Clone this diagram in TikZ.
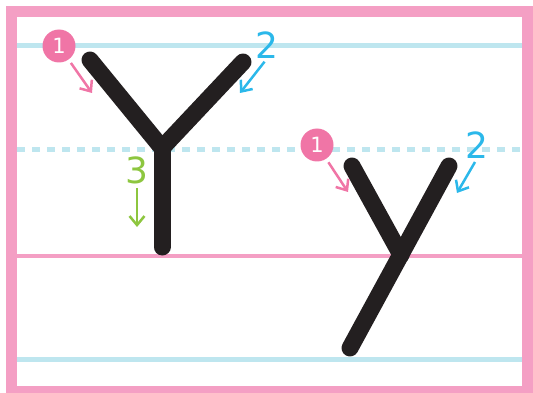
\documentclass[tikz,border=0pt]{standalone}
\usepackage{fontspec}
\setmainfont{DejaVu Sans}
\usetikzlibrary{arrows.meta}

\definecolor{framepink}{HTML}{F49FC4}
\definecolor{dotpink}{HTML}{F075A6}
\definecolor{guideblue}{HTML}{BEE6EF}
\definecolor{numblue}{HTML}{2BB8EA}
\definecolor{numgreen}{HTML}{8DC63F}
\definecolor{inkblack}{HTML}{231F20}

\begin{document}
\begin{tikzpicture}[
    x=1pt, y=-1pt,
    letter/.style={draw=inkblack, line width=17pt, line cap=round, line join=round},
    guide/.style={draw=guideblue, line width=5pt},
    dot/.style={circle, fill=dotpink, minimum size=33pt, inner sep=0pt, text=white, font=\fontsize{21}{21}\selectfont},
    num/.style={inner sep=0pt, font=\fontsize{36}{36}\selectfont},
    hint/.style={line width=2.5pt, -{Straight Barb[length=9pt,width=15pt,line width=2.5pt]}}
]

\useasboundingbox (0,0) rectangle (533,393);
\clip (0,0) rectangle (533,393);

% guide lines
\draw[guide] (17,46) -- (522,46);
\draw[guide, dash pattern=on 8pt off 7pt] (17,150) -- (522,150);
\draw[draw=framepink, line width=4pt] (17,255.5) -- (522,255.5);
\draw[guide] (17,359.5) -- (522,359.5);

% frame
\draw[draw=framepink, line width=11pt] (11.5,11.5) rectangle (527.5,391.5);

% capital Y
\coordinate (Yl) at (90,60);
\coordinate (Yr) at (243,62);
\coordinate (Yj) at (162,148);
\coordinate (Yb) at (162,247);
\draw[letter] (Yl) -- (Yj) -- (Yr);
\draw[letter] (Yj) -- (Yb);

% small y
\coordinate (yl) at (352,166);
\coordinate (yj) at (401,255);
\coordinate (yr) at (449,166);
\coordinate (yb) at (350,348);
\draw[letter] (yl) -- (yj);
\draw[letter] (yr) -- (yb);

% stroke numbers
\node[dot] (Yone) at (59,46) {1};
\node[num, text=numblue] (Ytwo) at (267,45) {2};
\node[num, text=numgreen] (Ythree) at (137,170) {3};
\node[dot] (yone) at (317,145) {1};
\node[num, text=numblue] (ytwo) at (477,145) {2};

\coordinate (Yonetip) at (92,93);
\coordinate (Ytwotip) at (240,93);
\coordinate (Ythreetip) at (137,227);
\coordinate (yonetip) at (348,192);
\coordinate (ytwotip) at (457,193);

\draw[hint, draw=dotpink, shorten <=4pt] (Yone) -- (Yonetip);
\draw[hint, draw=numblue, shorten <=4pt] (Ytwo.south) -- (Ytwotip);
\draw[hint, draw=numgreen, shorten <=4pt] (Ythree.south) -- (Ythreetip);
\draw[hint, draw=dotpink, shorten <=4pt] (yone) -- (yonetip);
\draw[hint, draw=numblue, shorten <=4pt] (ytwo.south) -- (ytwotip);

\end{tikzpicture}
\end{document}
